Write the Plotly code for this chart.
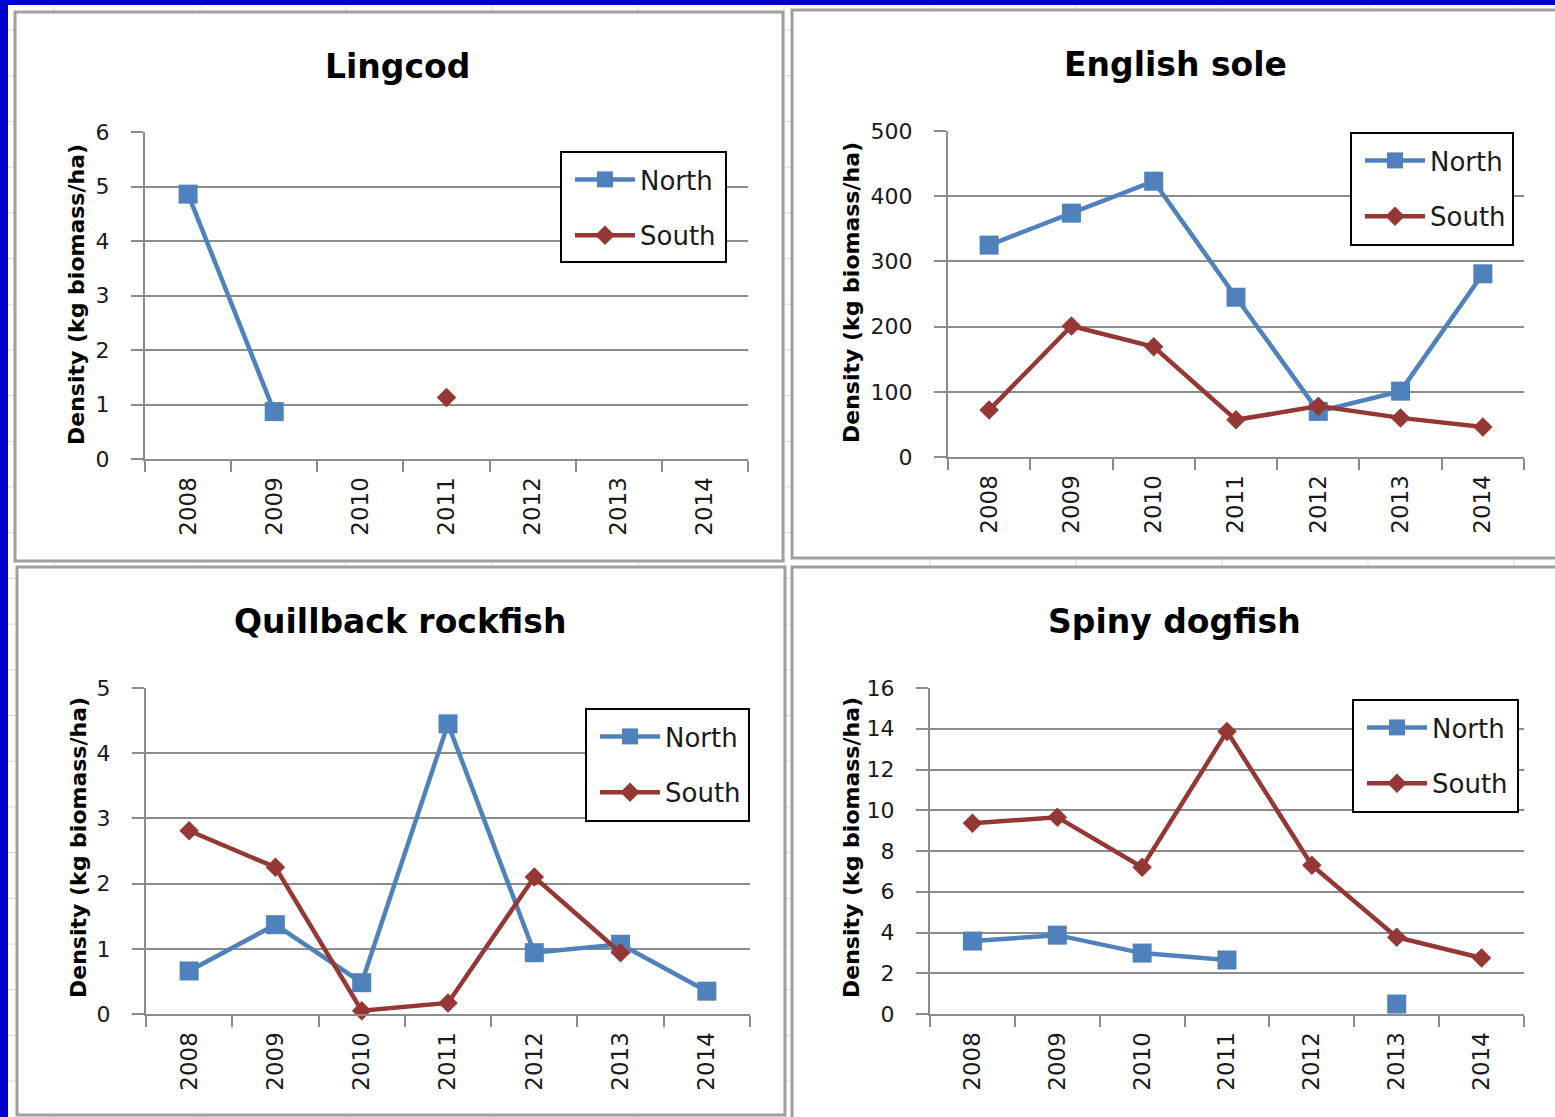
import plotly.graph_objects as go

# ---------------- data ----------------
years = ["2008", "2009", "2010", "2011", "2012", "2013", "2014"]

ling_north = [4.86, 0.87, None, None, None, None, None]
ling_south = [None, None, None, 1.13, None, None, None]

sole_north = [325, 374, 423, 245, 70, 101, 281]
sole_south = [72, 201, 169, 57, 78, 60, 46]

quill_north = [0.66, 1.37, 0.48, 4.45, 0.94, 1.07, 0.35]
quill_south = [2.81, 2.25, 0.05, 0.17, 2.10, 0.94, None]

dog_north = [3.58, 3.87, 2.99, 2.65, None, 0.49, None]
dog_south = [9.36, 9.66, 7.20, 13.87, 7.30, 3.77, 2.75]

titles = ["Lingcod", "English sole", "Quillback rockfish", "Spiny dogfish"]
y_max = [6, 500, 5, 16]
y_step = [1, 100, 1, 2]
y_title = "Density (kg biomass/ha)"
series_names = ["North", "South"]

# ---------------- styling / layout ----------------
W, H = 1555, 1117
BLUE = "#4F81BD"
RED = "#953735"
AX = "#8C8C8C"
FONT = "DejaVu Sans"


def px(x):
    return x / W


def py(y):
    return 1 - y / H


panels = [
    dict(data=(ling_north, ling_south), xd=(145, 748), yd=(132, 459),
         t=(398, 66), yt=(76, 295), box=(561, 152, 726, 262),
         frame=(15, 12, 783, 561)),
    dict(data=(sole_north, sole_south), xd=(948, 1524), yd=(131, 457),
         t=(1175, 64), yt=(851, 293), box=(1351, 133, 1513, 245),
         frame=(792, 10, 1562, 558)),
    dict(data=(quill_north, quill_south), xd=(146, 750), yd=(688, 1014),
         t=(400, 621), yt=(78, 848), box=(586, 709, 749, 821),
         frame=(17, 567, 785, 1115)),
    dict(data=(dog_north, dog_south), xd=(930, 1524), yd=(688, 1014),
         t=(1174, 621), yt=(851, 848), box=(1353, 700, 1518, 812),
         frame=(792, 567, 1562, 1122)),
]

fig = go.Figure()
shapes = []
annotations = []
layout = dict(
    width=W, height=H,
    margin=dict(l=0, r=0, t=0, b=0, pad=0, autoexpand=False),
    paper_bgcolor="#0000CC",
    plot_bgcolor="rgba(0,0,0,0)",
    font=dict(family=FONT, color="#1a1a1a"),
    showlegend=True,
)

# white sheet and faint spreadsheet grid
shapes.append(dict(type="rect", xref="paper", yref="paper", x0=px(8), x1=px(W + 5),
                   y0=py(H + 5), y1=py(5), fillcolor="white", line=dict(width=0), layer="below"))
for gx in [54, 200, 346, 492, 638, 784, 930, 1076, 1222, 1368, 1514]:
    shapes.append(dict(type="line", xref="paper", yref="paper", x0=px(gx), x1=px(gx),
                       y0=py(H), y1=py(5), line=dict(color="#DADADA", width=1), layer="below"))
k = 0
while 30 + 45.7 * k < H:
    gy = 30 + 45.7 * k
    shapes.append(dict(type="line", xref="paper", yref="paper", x0=px(8), x1=px(W),
                       y0=py(gy), y1=py(gy), line=dict(color="#DADADA", width=1), layer="below"))
    k += 1

for i, p in enumerate(panels):
    n = i + 1
    xa = "x" if n == 1 else f"x{n}"
    ya = "y" if n == 1 else f"y{n}"
    lg = "legend" if n == 1 else f"legend{n}"
    north, south = p["data"]

    # panel frame
    f = p["frame"]
    shapes.append(dict(type="rect", xref="paper", yref="paper", x0=px(f[0]), x1=px(f[2]),
                       y0=py(f[3]), y1=py(f[1]), fillcolor="white",
                       line=dict(color="#A0A0A0", width=3), layer="below"))

    fig.add_trace(go.Scatter(
        x=years, y=north, name=series_names[0], mode="lines+markers",
        xaxis=xa, yaxis=ya, legend=lg, legendgroup=f"n{n}",
        line=dict(color=BLUE, width=4.5),
        marker=dict(symbol="square", size=19, color=BLUE),
        cliponaxis=False, connectgaps=False))
    fig.add_trace(go.Scatter(
        x=years, y=south, name=series_names[1], mode="lines+markers",
        xaxis=xa, yaxis=ya, legend=lg, legendgroup=f"s{n}",
        line=dict(color=RED, width=4.5),
        marker=dict(symbol="diamond", size=15, color=RED),
        cliponaxis=False, connectgaps=False))

    xkey = "xaxis" if n == 1 else f"xaxis{n}"
    ykey = "yaxis" if n == 1 else f"yaxis{n}"
    layout[xkey] = dict(
        domain=[px(p["xd"][0]), px(p["xd"][1])], anchor=ya, automargin=False,
        type="category", categoryorder="array", categoryarray=years,
        range=[-0.5, 6.5], showline=True, linecolor=AX, linewidth=2,
        ticks="outside", tickson="boundaries", ticklen=11, tickwidth=2, tickcolor=AX,
        tickangle=-90, tickfont=dict(size=23, family=FONT, color="#1a1a1a"),
        showgrid=False, zeroline=False, fixedrange=True, ticklabelstandoff=7)
    layout[ykey] = dict(
        domain=[py(p["yd"][1]), py(p["yd"][0])], anchor=xa, automargin=False,
        range=[0, y_max[i]], dtick=y_step[i], tick0=0,
        showline=True, linecolor=AX, linewidth=2,
        ticks="outside", ticklen=12, tickwidth=2, tickcolor=AX,
        tickfont=dict(size=22, family=FONT, color="#1a1a1a"),
        showgrid=True, gridcolor=AX, gridwidth=2, zeroline=False,
        fixedrange=True, ticklabelstandoff=17)

    # legend box
    b = p["box"]
    shapes.append(dict(type="rect", xref="paper", yref="paper", x0=px(b[0]), x1=px(b[2]),
                       y0=py(b[3]), y1=py(b[1]), fillcolor="white",
                       line=dict(color="black", width=2), layer="above"))
    layout[lg] = dict(
        x=px(b[0] + 9), y=py(b[1] + 4), xanchor="left", yanchor="top",
        bgcolor="rgba(0,0,0,0)", borderwidth=0,
        font=dict(size=26, family=FONT, color="#1a1a1a"),
        traceorder="grouped", tracegroupgap=19, itemwidth=60,
        itemclick=False, itemdoubleclick=False)

    annotations.append(dict(text=titles[i], xref="paper", yref="paper",
                            x=px(p["t"][0]), y=py(p["t"][1]), xanchor="center", yanchor="middle",
                            showarrow=False, font=dict(size=33, family=FONT, color="black", weight="bold")))
    annotations.append(dict(text=y_title, xref="paper", yref="paper", textangle=-90,
                            x=px(p["yt"][0]), y=py(p["yt"][1]), xanchor="center", yanchor="middle",
                            showarrow=False, font=dict(size=22, family=FONT, color="black", weight="bold")))

layout["shapes"] = shapes
layout["annotations"] = annotations
fig.update_layout(**layout)
fig.write_html(
    "out.html",
    config={"displayModeBar": False},
    post_script="document.body.style.margin='0';document.body.style.background='#0000CC';",
)
